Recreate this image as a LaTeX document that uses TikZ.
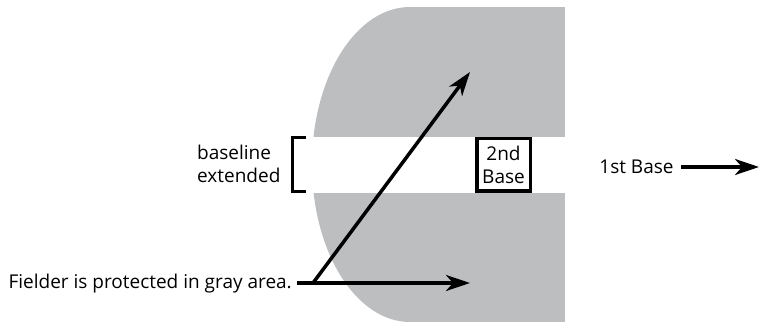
\documentclass[tikz,border=0pt]{standalone}
\usepackage{fontspec}
\setmainfont{Open Sans}
\usetikzlibrary{arrows.meta}
\definecolor{zonegray}{HTML}{BCBEC0}
\begin{document}
\begin{tikzpicture}[x=1pt,y=-1pt,
  lbl/.style={font=\fontsize{19}{22.5}\selectfont, inner sep=0pt},
  arr/.style={line width=3.5pt, -{Stealth[length=24pt,width=16pt,inset=7pt]}},
  basebox/.style={draw, line width=3.5pt, align=center, inner sep=0pt,
    minimum width=53.5pt, minimum height=52.5pt, font=\fontsize{19}{23}\selectfont},
  brk/.style={line width=3pt}]
\useasboundingbox (0,0) rectangle (760,323);
% protected gray area
\fill[zonegray] (410,164.5) ellipse[x radius=98, y radius=157.5];
\fill[zonegray] (410,7) rectangle (565,322);
% extended baseline (white band)
\fill[white] (300,137) rectangle (566,193);
% second base
\node[basebox] (second) at (503.5,165) {2nd\\Base};
% bracket and label
\draw[brk] (306,137.5) -- (292,137.5) -- (292,191.5) -- (306,191.5);
\node[lbl, align=left, anchor=west] (baseline) at (197,164) {baseline\\extended};
% first base
\node[lbl, inner xsep=7pt] (first) at (636.5,167) {1st Base};
\coordinate (firstend) at (759,167);
\draw[arr] (first.east) -- (firstend);
% fielder
\node[lbl, anchor=east, inner xsep=5pt] (fielder) at (297,284) {Fielder is protected in gray area.};
\coordinate (origin) at (313,283);
\coordinate (tipup) at (470,72);
\coordinate (tipright) at (470,283);
\draw[arr] (fielder.east |- origin) -- (tipright);
\draw[arr] (origin) -- (tipup);
\end{tikzpicture}
\end{document}
